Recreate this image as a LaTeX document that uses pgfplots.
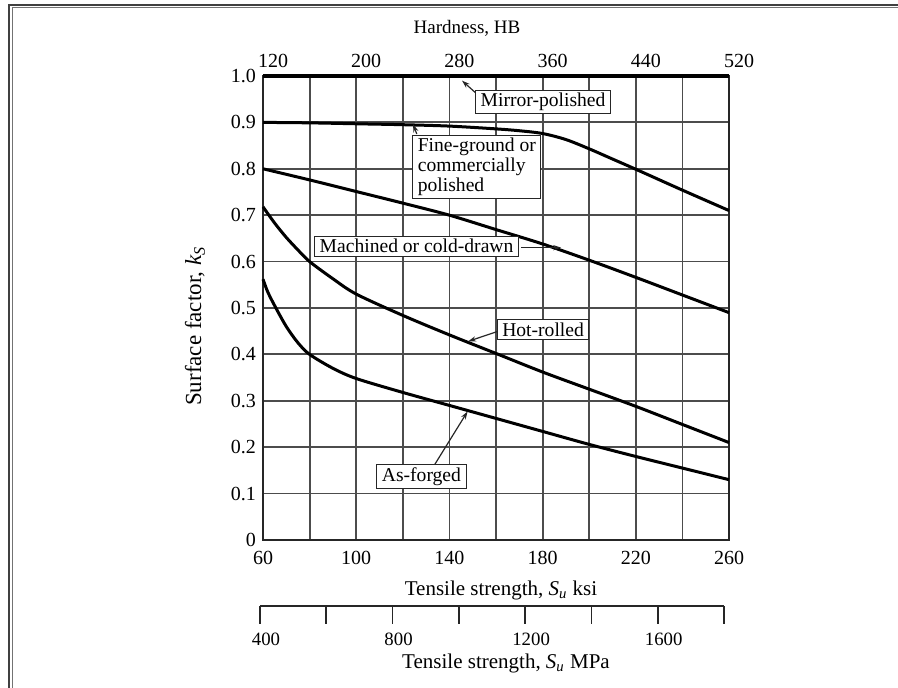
\documentclass[border=0pt]{standalone}
\usepackage{fontspec}
\setmainfont{Liberation Serif}
\usepackage{pgfplots}
\pgfplotsset{compat=1.18}
\usetikzlibrary{arrows.meta}

\newcommand\annfont{\fontsize{9.8}{10}\selectfont}
\newcommand\tickfont{\fontsize{10}{12}\selectfont}
\pgfplotsset{curve/.style={black, mark=none, line width=1.5pt, smooth, tension=0.5}}

\begin{document}
\begin{tikzpicture}
\useasboundingbox (0,0) rectangle (449pt,344pt);
% scan frame (top and left)
\draw[black!75, line width=0.9pt] (4.5pt,0) -- (4.5pt,341.5pt) -- (449pt,341.5pt);
\draw[black!55, line width=0.5pt] (6pt,0) -- (6pt,340pt) -- (449pt,340pt);

% main chart: ks vs tensile strength (ksi)
\begin{axis}[
  at={(131.5pt,74pt)}, anchor=south west,
  scale only axis, width=233pt, height=232pt,
  xmin=60, xmax=260, ymin=0, ymax=1,
  xtick={60,100,140,180,220,260},
  minor xtick={80,120,160,200,240},
  ytick={0,0.1,0.2,0.3,0.4,0.5,0.6,0.7,0.8,0.9,1.0},
  yticklabels={0,0.1,0.2,0.3,0.4,0.5,0.6,0.7,0.8,0.9,1.0},
  grid=both,
  major grid style={black!70, line width=0.9pt},
  minor grid style={black!70, line width=0.9pt},
  major tick length=0pt, minor tick length=0pt,
  axis line style={black!85, line width=1pt},
  tick label style={font=\tickfont},
  xticklabel style={yshift=-2pt},
  /pgf/number format/assume math mode=true,
  clip=false,
]
% Mirror-polished
\addplot[curve, line width=2pt] coordinates {(60,1.0)(260,1.0)};
% Fine-ground or commercially polished
\addplot[curve] coordinates {
  (60,0.900)(80,0.899)(100,0.897)(120,0.895)(140,0.892)(160,0.886)
  (170,0.882)(180,0.876)(190,0.863)(200,0.843)(210,0.821)(220,0.799)
  (240,0.754)(260,0.710)};
% Machined or cold-drawn
\addplot[curve] coordinates {
  (60,0.800)(80,0.776)(100,0.751)(120,0.726)(140,0.700)(160,0.669)
  (180,0.638)(200,0.603)(220,0.566)(240,0.528)(260,0.490)};
% Hot-rolled
\addplot[curve] coordinates {
  (60,0.718)(65,0.683)(70,0.652)(75,0.625)(80,0.600)(90,0.563)
  (100,0.530)(120,0.484)(140,0.442)(160,0.402)(180,0.362)(200,0.325)
  (220,0.288)(240,0.249)(260,0.210)};
% As-forged
\addplot[curve] coordinates {
  (60,0.562)(62,0.535)(65,0.505)(70,0.460)(75,0.425)(80,0.400)
  (90,0.370)(100,0.348)(120,0.318)(140,0.290)(160,0.262)(180,0.234)
  (200,0.206)(220,0.180)(240,0.155)(260,0.130)};

% callouts
\tikzset{box/.style={draw=black!85, line width=0.5pt, fill=white, font=\annfont,
                     inner xsep=2.5pt, inner ysep=1.5pt},
         arr/.style={black!85, line width=0.6pt, -{Stealth[length=4pt,width=2.6pt]}}}
\draw[arr] (axis cs:152.3,0.959) -- (axis cs:145.4,0.990);
\node[box] at (axis cs:180.2,0.944) {Mirror-polished};
\draw[arr] (axis cs:126.0,0.875) -- (axis cs:124.4,0.896);
\node[box, align=left, inner ysep=1.5pt] at (axis cs:151.8,0.804)
  {Fine-ground or\\commercially\\polished};
\node[box] at (axis cs:125.9,0.633) {Machined or cold-drawn};
\draw[arr] (axis cs:170.8,0.630) -- (axis cs:188.0,0.630);
\draw[arr] (axis cs:161.0,0.450) -- (axis cs:148.0,0.428);
\node[box] at (axis cs:180.2,0.453) {Hot-rolled};
\draw[arr] (axis cs:133.0,0.157) -- (axis cs:147.8,0.277);
\node[box] at (axis cs:128.0,0.136) {As-forged};
\end{axis}

% top scale: hardness HB
\begin{axis}[
  at={(131.5pt,74pt)}, anchor=south west,
  scale only axis, width=233pt, height=232pt,
  xmin=120, xmax=520, ymin=0, ymax=1,
  axis x line*=top, axis y line=none,
  x axis line style={draw=none},
  xtick={120,200,280,360,440,520},
  major tick length=0pt,
  tick label style={font=\tickfont},
  xticklabel style={xshift=5pt, yshift=0.5pt},
  /pgf/number format/assume math mode=true,
]
\addplot[draw=none] coordinates {(120,0)(520,1)};
\end{axis}

% lower scale: tensile strength MPa
\begin{axis}[
  at={(130pt,41pt)}, anchor=south west,
  scale only axis, width=232pt, height=5pt,
  xmin=400, xmax=1800, ymin=0, ymax=1,
  axis x line*=bottom, axis y line=none,
  x axis line style={-, black!85, line width=0.8pt},
  xtick={400,600,800,1000,1200,1400,1600,1800},
  xticklabels={400,,800,,1200,,1600,},
  tick align=outside, major tick length=9pt,
  tick style={black!85, line width=0.8pt},
  tick label style={font=\fontsize{9.4}{10}\selectfont},
  xticklabel style={yshift=-1pt, xshift=3pt},
]
\addplot[draw=none] coordinates {(400,0)(1800,1)};
\end{axis}

% axis titles
\node[font=\fontsize{9.5}{11}\selectfont] at (233.5pt,330pt) {Hardness, HB};
\node[rotate=90, font=\fontsize{11.5}{13}\selectfont] at (97.5pt,181pt)
  {Surface factor, \textit{k}\textsubscript{\textit{S}}};
\node[font=\fontsize{10.5}{12}\selectfont] at (250.5pt,49pt)
  {Tensile strength, \textit{S}\textsubscript{\textit{u}} ksi};
\node[font=\fontsize{10.5}{12}\selectfont] at (253pt,12.5pt)
  {Tensile strength, \textit{S}\textsubscript{\textit{u}} MPa};
\end{tikzpicture}
\end{document}
